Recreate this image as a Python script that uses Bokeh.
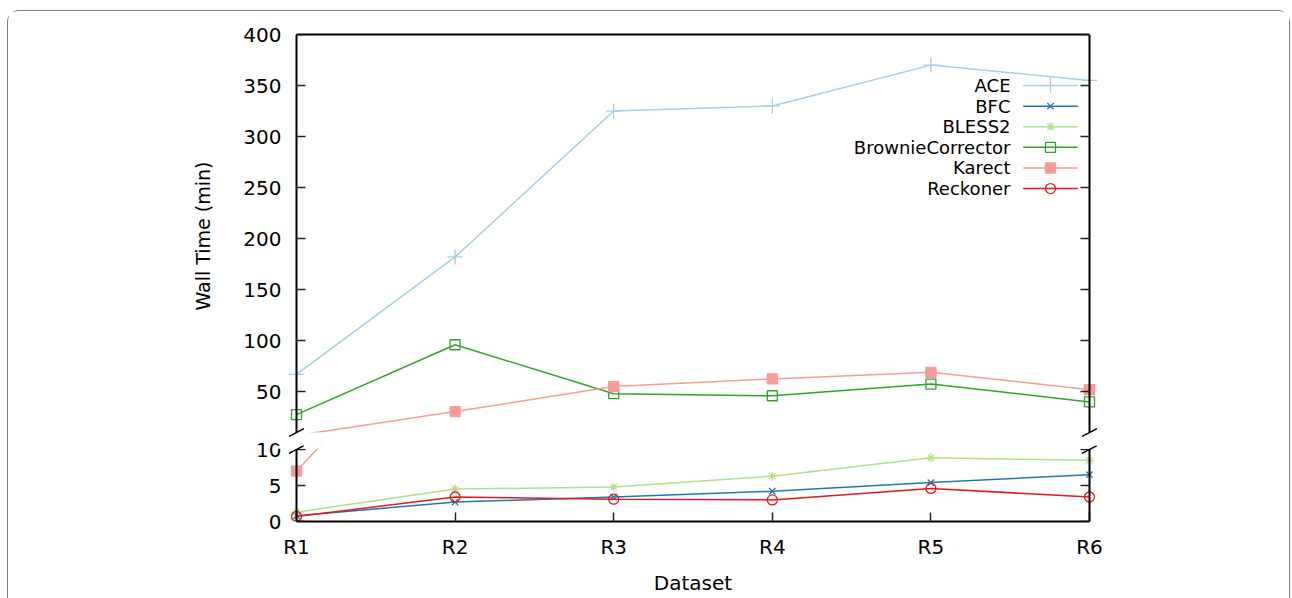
from bokeh.plotting import figure
from bokeh.layouts import column
from bokeh.models import (Range1d, LinearAxis, FixedTicker, Arrow, Grid, BoxAnnotation,
                          CustomLabelingPolicy)
from bokeh.core.properties import value
from bokeh.embed import file_html
from bokeh.resources import INLINE

# ---------------- data ----------------
datasets = ["R1", "R2", "R3", "R4", "R5", "R6"]
tool_names = ["ACE", "BFC", "BLESS2", "BrownieCorrector", "Karect", "Reckoner"]
ace = [67, 182, 325, 330, 370, 355]
bfc = [0.8, 2.7, 3.4, 4.2, 5.4, 6.5]
bless2 = [1.3, 4.5, 4.8, 6.3, 8.85, 8.5]
brownie = [27.5, 96, 48, 46, 57.5, 40]
karect = [7, 30.5, 55, 62.5, 69, 52]
reckoner = [0.7, 3.4, 3.1, 3.0, 4.6, 3.4]
upper_ticks = [50, 100, 150, 200, 250, 300, 350, 400]
lower_ticks = [0, 5, 10]

# ---------------- styles ----------------
colors = ["#a6cee3", "#1f78b4", "#b2df8a", "#33a02c", "#fb9a99", "#e31a1c"]
markers = ["cross", "x", "asterisk", "square", "square", "circle"]
msizes = [15, 9, 9, 10, 10, 10]
filled = [False, False, False, False, True, False]
values_list = [ace, bfc, bless2, brownie, karect, reckoner]
x = list(range(len(datasets)))
N = len(datasets) - 1

FONT = "DejaVu Sans"
TICK_FS = "20px"
LBL_FS = "20px"
YLBL_FS = "19px"
LEG_FS = "18px"

# axis break at 10: upper panel shows 10..400, lower panel 0..10.
# Each frame reaches a few pixels past the break so the break marks fit
# inside it; that margin is masked white.
BREAK = 10
UP_TOP = 400
UP_FRAME_LO = 5.1      # 5 px below the break in the upper scale
LO_FRAME_HI = 10.556   # 4 px above the break in the lower scale
PAD = 0.1261
xr = Range1d(-PAD, N + PAD)


def base_axis(ax):
    ax.axis_line_color = "black"
    ax.axis_line_width = 2
    ax.major_tick_in = 9
    ax.major_tick_out = 0
    ax.major_tick_line_color = "#222222"
    ax.major_tick_line_width = 1.5
    ax.minor_tick_line_color = None
    ax.major_label_text_font = FONT
    ax.major_label_text_font_size = TICK_FS
    ax.major_label_text_color = "black"
    ax.axis_label_text_font = FONT
    ax.axis_label_text_font_size = LBL_FS
    ax.axis_label_text_font_style = "normal"
    ax.axis_label_text_color = "black"


def line_axis(ticks, loc, bounds):
    # axis line + inward ticks drawn at a data location, no labels
    ax = LinearAxis(ticker=FixedTicker(ticks=ticks), fixed_location=loc, bounds=bounds,
                    major_label_policy=CustomLabelingPolicy(code="return new Set()"))
    base_axis(ax)
    return ax


def label_axis(ticks, title=None):
    # labels only, placed just left of the R1 axis line
    ax = LinearAxis(ticker=FixedTicker(ticks=ticks))
    base_axis(ax)
    ax.axis_line_color = None
    ax.major_tick_line_color = None
    ax.major_tick_in = 0
    ax.major_tick_out = 0
    ax.major_label_standoff = -5
    if title:
        ax.axis_label = title
        ax.axis_label_text_font_size = YLBL_FS
        ax.axis_label_standoff = 26
    return ax


def make_fig(yr, height, top, bottom):
    p = figure(width=1281, height=height, x_range=xr, y_range=yr,
               output_backend="svg", toolbar_location=None,
               x_axis_location=None, y_axis_location=None,
               min_border_left=268, min_border_right=180,
               min_border_top=top, min_border_bottom=bottom)
    p.outline_line_color = None
    p.background_fill_color = "white"
    p.border_fill_color = "white"
    for g in p.select(type=Grid):
        g.visible = False
    return p


def draw_series(p, keep):
    for name, vals, c, m, s, f in zip(tool_names, values_list, colors, markers, msizes, filled):
        p.line(x, vals, line_color=c, line_width=1.5)
        px = [xi for xi, v in zip(x, vals) if keep(v)]
        pv = [v for v in vals if keep(v)]
        if px:
            p.scatter(px, pv, marker=m, size=s, line_color=c, line_width=1.3,
                      fill_color=c if f else None)


def mask_and_breaks(p, lo, hi, dy):
    p.add_layout(BoxAnnotation(left=-PAD, right=N + PAD, bottom=lo, top=hi,
                               fill_color="white", fill_alpha=1.0, line_color=None))
    dx = 7.5 / 158.6
    for xv in (0, N):
        p.add_layout(Arrow(x_start=xv - dx, y_start=BREAK - dy, x_end=xv + dx, y_end=BREAK + dy,
                           start=None, end=None, line_color="black", line_width=1.5))


# ---------------- upper panel ----------------
up = make_fig(Range1d(UP_FRAME_LO, UP_TOP), 426, 23, 0)
draw_series(up, lambda v: v >= BREAK)
up.add_layout(label_axis(upper_ticks, "Wall Time (min)"), "left")
up.add_layout(line_axis(upper_ticks, 0, (BREAK, UP_TOP)), "left")
up.add_layout(line_axis(upper_ticks, N, (BREAK, UP_TOP)), "right")
ta = LinearAxis(ticker=FixedTicker(ticks=[]), bounds=(0, N))
base_axis(ta)
up.add_layout(ta, "above")
mask_and_breaks(up, UP_FRAME_LO, BREAK, 3.8)

# legend (gnuplot style: text right-aligned, sample to the right)
leg_rows = [350 - i * 20.2 for i in range(len(tool_names))]
leg_text_x = 4.502
leg_x0, leg_x1, leg_xm = 4.582, 4.926, 4.754
up.text(x=[leg_text_x] * len(tool_names), y=leg_rows, text=tool_names,
        text_align="right", text_baseline="middle", text_font=value(FONT),
        text_font_size=LEG_FS, text_color="black")
for row, c, m, s, f in zip(leg_rows, colors, markers, msizes, filled):
    up.segment(x0=[leg_x0], x1=[leg_x1], y0=[row], y1=[row], line_color=c, line_width=1.5)
    up.scatter([leg_xm], [row], marker=m, size=s, line_color=c, line_width=1.3,
               fill_color=c if f else None)

# ---------------- lower panel ----------------
low = make_fig(Range1d(0, LO_FRAME_HI), 161, 8, 77)
draw_series(low, lambda v: v <= BREAK)
low.add_layout(label_axis(lower_ticks), "left")
low.add_layout(line_axis(lower_ticks, 0, (0, BREAK)), "left")
low.add_layout(line_axis(lower_ticks, N, (0, BREAK)), "right")
bx = LinearAxis(ticker=FixedTicker(ticks=x), bounds=(0, N),
                major_label_overrides={i: d for i, d in enumerate(datasets)},
                axis_label="Dataset")
base_axis(bx)
bx.major_label_standoff = 13
bx.axis_label_standoff = 9
low.add_layout(bx, "below")
mask_and_breaks(low, BREAK + 0.12, LO_FRAME_HI, 0.54)

layout = column(up, low, margin=(10, 0, 0, 7),
                styles={"border-top": "1px solid #7f7f7f",
                        "border-left": "1px solid #7f7f7f",
                        "border-right": "1px solid #7f7f7f",
                        "border-top-left-radius": "12px",
                        "border-top-right-radius": "12px"})

open("out.html", "w").write(file_html(layout, INLINE))
